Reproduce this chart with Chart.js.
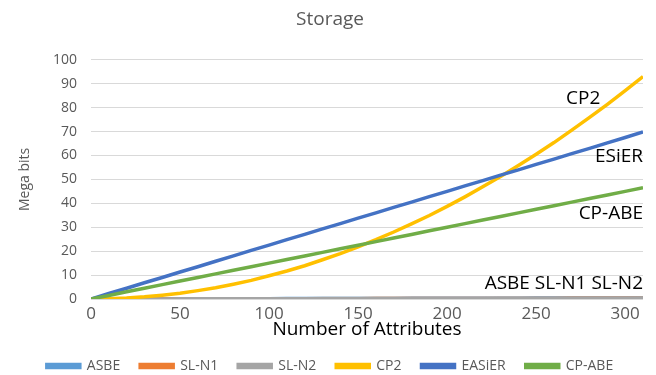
<!DOCTYPE html>
<html>
<head>
<meta charset="utf-8">
<script src="https://cdn.jsdelivr.net/npm/chart.js@4/dist/chart.umd.min.js"></script>
<style>
  html, body { margin: 0; padding: 0; background: #fff; }
  #wrap { width: 656px; height: 375px; }
</style>
</head>
<body>
<div id="wrap"><canvas id="storageChart" width="656" height="375"></canvas></div>
<script>
// number of attributes (x)
const attributes = [0, 10, 20, 30, 40, 50, 60, 70, 80, 90, 100, 110, 120, 130, 140, 150,
  160, 170, 180, 190, 200, 210, 220, 230, 240, 250, 260, 270, 280, 290, 300, 310];

// storage in mega bits
const asbe = [0, 0.02, 0.03, 0.05, 0.06, 0.08, 0.09, 0.11, 0.12, 0.14, 0.15, 0.17, 0.18, 0.2, 0.21, 0.23,
  0.24, 0.26, 0.27, 0.29, 0.3, 0.32, 0.33, 0.35, 0.36, 0.38, 0.39, 0.41, 0.42, 0.44, 0.45, 0.47];
const slN1 = [0, 0.01, 0.02, 0.03, 0.04, 0.05, 0.06, 0.07, 0.08, 0.09, 0.1, 0.11, 0.12, 0.13, 0.14, 0.15,
  0.16, 0.17, 0.18, 0.19, 0.2, 0.21, 0.22, 0.23, 0.24, 0.25, 0.26, 0.27, 0.28, 0.29, 0.3, 0.31];
const slN2 = [0, 0.01, 0.02, 0.04, 0.05, 0.06, 0.07, 0.08, 0.1, 0.11, 0.12, 0.13, 0.14, 0.16, 0.17, 0.18,
  0.19, 0.2, 0.22, 0.23, 0.24, 0.25, 0.26, 0.28, 0.29, 0.3, 0.31, 0.32, 0.34, 0.35, 0.36, 0.37];
const cp2 = [0, 0.1, 0.4, 0.9, 1.6, 2.4, 3.5, 4.7, 6.2, 7.8, 9.7, 11.7, 13.9, 16.4, 19.0, 21.8,
  24.8, 28.0, 31.4, 34.9, 38.7, 42.7, 46.9, 51.2, 55.8, 60.5, 65.4, 70.6, 75.9, 81.4, 87.1, 93.0];
const easier = [0, 2.3, 4.5, 6.8, 9, 11.3, 13.5, 15.8, 18, 20.3, 22.5, 24.8, 27, 29.3, 31.5, 33.8,
  36, 38.3, 40.5, 42.8, 45, 47.3, 49.5, 51.8, 54, 56.3, 58.5, 60.8, 63, 65.3, 67.5, 69.8];
const cpAbe = [0, 1.5, 3, 4.5, 6, 7.5, 9, 10.5, 12, 13.5, 15, 16.5, 18, 19.5, 21, 22.5,
  24, 25.5, 27, 28.5, 30, 31.5, 33, 34.5, 36, 37.5, 39, 40.5, 42, 43.5, 45, 46.5];

const seriesNames = ["ASBE", "SL-N1", "SL-N2", "CP2", "EASiER", "CP-ABE"];
const seriesValues = [asbe, slN1, slN2, cp2, easier, cpAbe];
const seriesColors = ["#5B9BD5", "#ED7D31", "#A5A5A5", "#FFC000", "#4472C4", "#70AD47"];

const xTicks = [0, 50, 100, 150, 200, 250, 300];
const yTicks = [0, 10, 20, 30, 40, 50, 60, 70, 80, 90, 100];

// text labels written inside the plot
const noteTexts = ["CP2", "ESiER", "CP-ABE", "ASBE SL-N1 SL-N2"];
const noteX = [286, 310, 310, 310];
const noteY = [83.7, 59.6, 35.8, 6.3];

const FONT = "'Open Sans', 'Liberation Sans', sans-serif";

// Excel draws later series on top, Chart.js draws dataset 0 on top -> reverse
const datasets = seriesNames.map((name, i) => ({
  label: name,
  data: attributes.map((x, j) => ({ x: x, y: seriesValues[i][j] })),
  borderColor: seriesColors[i],
  backgroundColor: seriesColors[i],
  borderWidth: 3.5,
  pointRadius: 0,
  showLine: true,
  tension: 0
})).reverse();

const notesPlugin = {
  id: "notes",
  afterDatasetsDraw(chart) {
    const ctx = chart.ctx;
    const xs = chart.scales.x, ys = chart.scales.y;
    ctx.save();
    ctx.font = "19px " + FONT;
    ctx.fillStyle = "#000";
    ctx.textAlign = "right";
    ctx.textBaseline = "middle";
    noteTexts.forEach((t, i) => {
      ctx.fillText(t, xs.getPixelForValue(noteX[i]), ys.getPixelForValue(noteY[i]));
    });
    ctx.restore();
  }
};

new Chart(document.getElementById("storageChart"), {
  type: "scatter",
  data: { datasets: datasets },
  plugins: [notesPlugin],
  options: {
    responsive: false,
    animation: false,
    layout: { padding: { left: 17, right: 13, top: 7, bottom: -8 } },
    plugins: {
      title: {
        display: true,
        text: "Storage",
        color: "#595959",
        font: { family: FONT, size: 19, weight: "normal" },
        padding: { top: 1, bottom: 29 }
      },
      legend: {
        position: "bottom",
        reverse: true,
        labels: {
          boxWidth: 33,
          boxHeight: 3,
          padding: 20,
          color: "#595959",
          font: { family: FONT, size: 14 }
        }
      },
      tooltip: { enabled: false }
    },
    scales: {
      x: {
        type: "linear",
        min: 0,
        max: 310,
        afterBuildTicks: (s) => { s.ticks = xTicks.map(v => ({ value: v })); },
        afterFit: (s) => { s.height = 40; },
        grid: { display: false, drawTicks: false },
        border: { display: false },
        ticks: { color: "#595959", font: { family: FONT, size: 17 }, padding: 5, maxRotation: 0 },
        title: {
          display: true,
          text: "Number of Attributes",
          color: "#000",
          font: { family: FONT, size: 19 },
          padding: { top: 0, bottom: -2 }
        }
      },
      y: {
        min: 0,
        max: 100,
        afterBuildTicks: (s) => { s.ticks = yTicks.map(v => ({ value: v })); },
        afterFit: (s) => { s.width = 74; },
        grid: { color: "#d9d9d9", lineWidth: 1, drawTicks: false },
        border: { display: false },
        ticks: { color: "#595959", font: { family: FONT, size: 14 }, padding: 14 },
        title: {
          display: true,
          text: "Mega bits",
          color: "#595959",
          font: { family: FONT, size: 14 },
          padding: { top: 0, bottom: 4 }
        }
      }
    }
  }
});
</script>
</body>
</html>
